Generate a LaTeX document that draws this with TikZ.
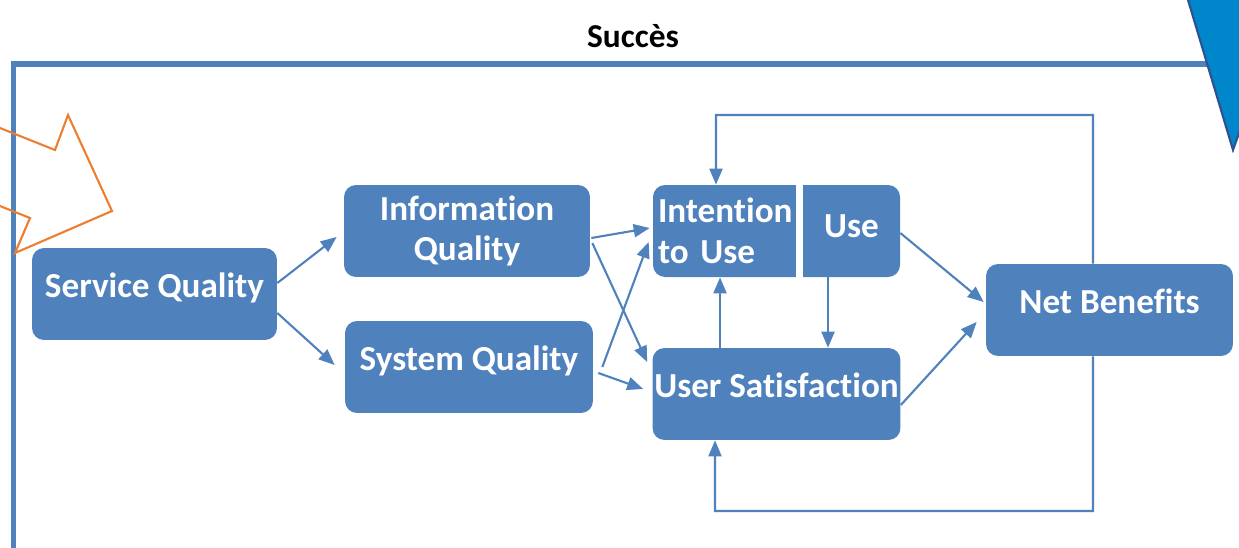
\documentclass[tikz,border=0pt]{standalone}
\usepackage{fontspec}
\setmainfont{Carlito}[Ligatures=NoCommon]
\usetikzlibrary{arrows.meta}
\definecolor{boxblue}{RGB}{79,129,189}
\definecolor{tipblue}{RGB}{0,134,203}
\definecolor{tipedge}{RGB}{47,82,143}
\definecolor{arroworange}{RGB}{237,125,49}
\newcommand{\boxfont}{\bfseries\fontsize{20}{23}\selectfont}

\begin{document}
\begin{tikzpicture}[x=0.02cm,y=-0.02cm,
    boxtext/.style={text=white,font=\boxfont,minimum height=1.84cm,inner sep=0.1cm},
    box/.style={boxtext,fill=boxblue,rounded corners=0.24cm,align=center,inner xsep=1pt},
    oneline/.style={text height=0.36cm,text depth=0.24cm},
    conn/.style={draw=boxblue,line width=1.2pt,-{Triangle[length=0.32cm,width=0.26cm]}}]
    \useasboundingbox (0,0) rectangle (1239,547);
    \clip (0,0) rectangle (1239,547);
    % frame and title
    \draw[boxblue,line width=0.12cm] (13.5,560) -- (13.5,64) -- (1220,64);
    \node[font=\bfseries\fontsize{19}{22}\selectfont,anchor=base] (succes) at (633,48) {Succès};
    % boxes
    \node[box,oneline,minimum width=4.9cm] (sq) at (154.5,294) {Service Quality};
    \node[box,minimum width=4.92cm] (iq) at (467,231) {Information\\Quality};
    \node[box,oneline,minimum width=4.96cm] (sys) at (469,367) {System Quality};
    \node[box,oneline,minimum width=4.94cm] (us) at (776.5,394) {User Satisfaction};
    \node[box,oneline,minimum width=4.94cm] (nb) at (1109.5,310) {Net Benefits};
    \fill[boxblue,rounded corners=0.24cm] (653,185) rectangle (900,277);
    \fill[white] (796,180) rectangle (803,282);
    \node[boxtext,text width=2.66cm,align=left] (intent) at (724.5,231) {Intention\\to Use};
    \node[boxtext,minimum width=1.94cm,text height=0.44cm,text depth=0.16cm] (use) at (851.5,231) {Use};
    % connectors
    \draw[conn] ([yshift=0.22cm]sq.east) -- ([shift={(-0.14cm,-0.12cm)}]iq.west);
    \draw[conn] ([yshift=-0.38cm]sq.east) -- ([shift={(-0.2cm,0.04cm)}]sys.west);
    \draw[conn] ([shift={(0.02cm,-0.14cm)}]iq.east) -- ([shift={(-0.06cm,0.06cm)}]intent.west);
    \draw[conn] ([shift={(0.04cm,-0.24cm)}]iq.east) -- ([shift={(-0.1cm,0.64cm)}]us.west);
    \draw[conn] ([xshift=0.18cm]sys.east) -- ([shift={(-0.08cm,-0.22cm)}]intent.west);
    \draw[conn] ([shift={(0.1cm,-0.12cm)}]sys.east) -- ([shift={(-0.18cm,0.1cm)}]us.west);
    \draw[conn] ([xshift=-1.13cm]us.north) -- ([xshift=-1.13cm]us.north |- intent.south);
    \draw[conn] ([xshift=-0.47cm]use.south) -- ([xshift=-0.47cm]use.south |- us.north);
    \draw[conn] ([yshift=-0.04cm]use.east) -- ([shift={(-0.04cm,0.16cm)}]nb.west);
    \draw[conn] ([yshift=-0.22cm]us.east) -- ([shift={(-0.18cm,-0.24cm)}]nb.west);
    % feedback loops
    \coordinate (fbtop) at (716,115);
    \coordinate (fbbot) at (715,511);
    \draw[conn] ([xshift=-0.33cm]nb.north) |- (fbtop) -- ([xshift=-0.17cm]intent.north);
    \draw[conn] ([xshift=-0.33cm]nb.south) |- (fbbot) -- ([xshift=-1.23cm]us.south);
    % big arrows
    \draw[arroworange,line width=1.2pt] (-20,120) -- (55,150) -- (68,115) -- (112,211)
      -- (15,253) -- (30,218) -- (-20,198);
    \filldraw[fill=tipblue,draw=tipedge,line width=1.2pt] (1185,-10) -- (1233,150)
      -- (1290,-10) -- cycle;
\end{tikzpicture}
\end{document}
